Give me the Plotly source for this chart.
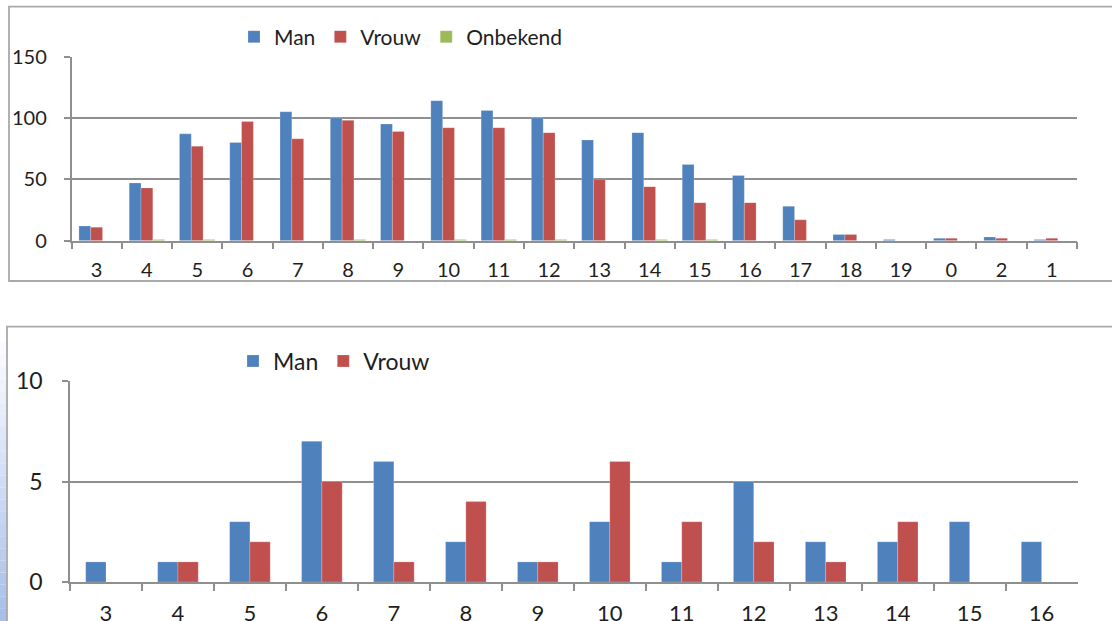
import plotly.graph_objects as go

W, H = 1112, 621

# ---- data ----
top_categories = ["3", "4", "5", "6", "7", "8", "9", "10", "11", "12", "13", "14",
                  "15", "16", "17", "18", "19", "0", "2", "1"]
top_man = [12, 47, 87, 80, 105, 100, 95, 114, 106, 100, 82, 88, 62, 53, 28, 5, 1, 2, 3, 1]
top_vrouw = [11, 43, 77, 97, 83, 98, 89, 92, 92, 88, 50, 44, 31, 31, 17, 5, 0, 2, 2, 2]
top_onbekend = [0, 1, 1, 0, 0, 1, 0, 1, 1, 1, 0, 1, 1, 0, 0, 0, 0, 0, 0, 0]
top_yticks = [0, 50, 100, 150]

bottom_categories = ["3", "4", "5", "6", "7", "8", "9", "10", "11", "12", "13", "14", "15", "16"]
bottom_man = [1, 1, 3, 7, 6, 2, 1, 3, 1, 5, 2, 2, 3, 2]
bottom_vrouw = [0, 1, 2, 5, 1, 4, 1, 6, 3, 2, 1, 3, 0, 0]
bottom_yticks = [0, 5, 10]

# ---- styles ----
BLUE, RED, GREEN = "#4F81BD", "#C0504D", "#9BBB59"
GRID = "#8f8f8f"
BORDER = "#a9a9a9"
TXT = "#1e1e1e"
FONT = "Lato, Carlito, Calibri, sans-serif"


def px_x(p):
    return p / W


def px_y(p):
    return (H - p) / H


fig = go.Figure()

# top chart bars
tw = 0.235
for name, vals, col, off in [("Man", top_man, BLUE, -1.5 * tw),
                             ("Vrouw", top_vrouw, RED, -0.5 * tw),
                             ("Onbekend", top_onbekend, GREEN, 0.5 * tw)]:
    fig.add_trace(go.Bar(x=top_categories, y=vals, name=name, marker_color=col,
                         marker_line=dict(color="rgba(255,255,255,0.35)", width=0.6),
                         width=tw, offset=off, xaxis="x", yaxis="y", legend="legend"))

# bottom chart bars
bw = 0.282
for name, vals, col, off in [("Man", bottom_man, BLUE, -bw),
                             ("Vrouw", bottom_vrouw, RED, 0)]:
    fig.add_trace(go.Bar(x=bottom_categories, y=vals, name=name, marker_color=col,
                         marker_line=dict(color="rgba(255,255,255,0.35)", width=0.6),
                         width=bw, offset=off, xaxis="x2", yaxis="y2", legend="legend2"))

xcommon = dict(type="category", showline=True, linecolor=GRID, linewidth=1.5,
               ticks="outside", tickson="boundaries", ticklen=7, tickcolor=GRID,
               tickwidth=1.5, showgrid=False, zeroline=False, fixedrange=True,
               automargin=False)
ycommon = dict(showline=True, linecolor=GRID, linewidth=1.5, ticks="outside",
               ticklen=6, tickcolor=GRID, tickwidth=1.5, showgrid=True,
               gridcolor=GRID, gridwidth=1.5, zeroline=False, fixedrange=True,
               automargin=False)

fig.update_layout(
    width=W, height=H,
    margin=dict(l=0, r=0, t=0, b=0, autoexpand=False),
    paper_bgcolor="white", plot_bgcolor="white",
    font=dict(family=FONT, color=TXT),
    showlegend=True,
    xaxis=dict(**xcommon, domain=[px_x(71.5), px_x(1077)], anchor="y",
               range=[-0.5, len(top_categories) - 0.5],
               tickfont=dict(size=20, color=TXT), ticklabelstandoff=11),
    yaxis=dict(**ycommon, domain=[px_y(240.7), px_y(56.5)], anchor="x",
               range=[0, 150], tickvals=top_yticks,
               tickfont=dict(size=20, color=TXT), ticklabelstandoff=13),
    xaxis2=dict(**xcommon, domain=[px_x(70), px_x(1077.6)], anchor="y2",
                range=[-0.5, len(bottom_categories) - 0.5],
                tickfont=dict(size=22, color=TXT), ticklabelstandoff=11),
    yaxis2=dict(**ycommon, domain=[px_y(582), px_y(381)], anchor="x2",
                range=[0, 10], tickvals=bottom_yticks,
                tickfont=dict(size=23, color=TXT), ticklabelstandoff=15),
    legend=dict(orientation="h", x=px_x(234), xanchor="left", y=px_y(37), yanchor="middle",
                font=dict(size=21, color=TXT), bgcolor="rgba(0,0,0,0)",
                itemclick=False, itemdoubleclick=False, tracegroupgap=0),
    legend2=dict(orientation="h", x=px_x(233), xanchor="left", y=px_y(361), yanchor="middle",
                 font=dict(size=23, color=TXT), bgcolor="rgba(0,0,0,0)",
                 itemclick=False, itemdoubleclick=False, tracegroupgap=0),
)

shapes = []
# left gradient strip beside the bottom chart
n = 24
y_start, y_end = 330, 621
c0 = (255, 255, 255)
c1 = (166, 190, 234)
for i in range(n):
    t = (i + 0.5) / n
    c = tuple(int(round(c0[k] + (c1[k] - c0[k]) * t)) for k in range(3))
    ya = y_start + (y_end - y_start) * i / n
    yb = y_start + (y_end - y_start) * (i + 1) / n
    shapes.append(dict(type="rect", xref="paper", yref="paper",
                       x0=0, x1=px_x(7), y0=px_y(yb), y1=px_y(ya),
                       line=dict(width=0), fillcolor="rgb(%d,%d,%d)" % c, layer="below"))
# chart borders
shapes.append(dict(type="rect", xref="paper", yref="paper",
                   x0=px_x(9), x1=1.02, y0=px_y(281), y1=px_y(6.7),
                   line=dict(color=BORDER, width=1.8), fillcolor="rgba(0,0,0,0)", layer="below"))
shapes.append(dict(type="rect", xref="paper", yref="paper",
                   x0=px_x(7), x1=1.02, y0=-0.02, y1=px_y(326.7),
                   line=dict(color=BORDER, width=1.8), fillcolor="rgba(0,0,0,0)", layer="below"))
fig.update_layout(shapes=shapes)

fig.write_html("out.html", config={"displayModeBar": False},
               post_script="document.body.style.margin='0';document.body.style.overflow='hidden';")
